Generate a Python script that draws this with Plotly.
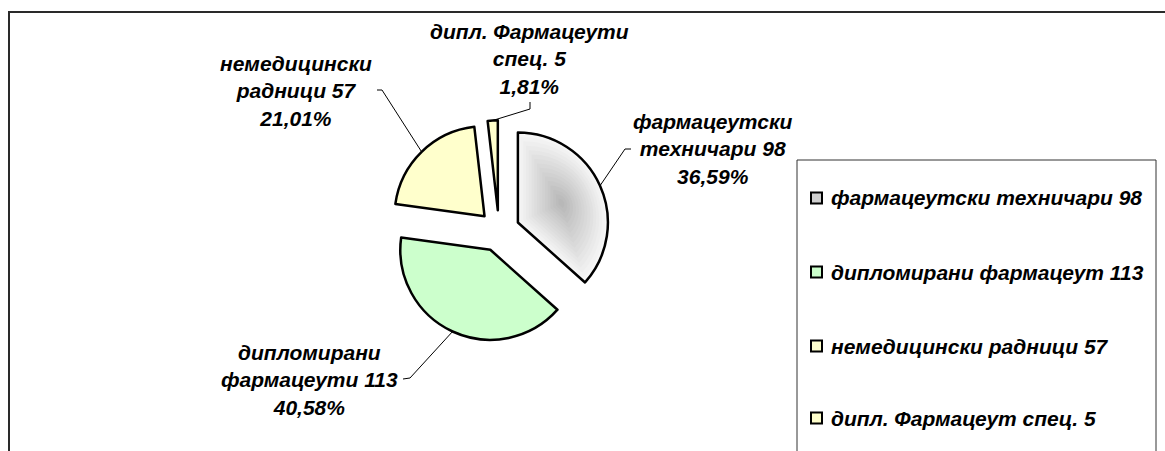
import math
import plotly.graph_objects as go

# ---------------- data ----------------
categories = [
    "фармацеутски техничари 98",
    "дипломирани фармацеут 113",
    "немедицински радници 57",
    "дипл. Фармацеут спец. 5",
]
slice_names = [
    "фармацеутски<br>техничари 98",
    "дипломирани<br>фармацеути 113",
    "немедицински<br>радници 57",
    "дипл. Фармацеути<br>спец. 5",
]
percent_text = ["36,59%", "40,58%", "21,01%", "1,81%"]
shares = [36.59, 40.58, 21.01, 1.81]

# ---------------- styles / layout ----------------
fill_colors = ["#f6f6f6", "#ccffcc", "#ffffcc", "#ffffcc"]
legend_colors = ["#cfcfcf", "#ccffcc", "#ffffcc", "#ffffcc"]
W, H = 1165, 451
CX, CY, R, PULL = 499, 231, 90, 0.23
FONT = "Liberation Sans, Arial, sans-serif"
FSIZE = 21

label_centers = [(713, 149), (309, 380), (296, 91), (529, 59)]
leader_elbows = [
    [(625, 149), (631, 149)],
    [(410, 378), (403, 379)],
    [(382, 90), (377, 90)],
    [(530, 109), (530, 102)],
]
legend_rows_y = [198, 272, 346, 418]


def px(x):
    return x / W


def py(y):
    return 1 - y / H


def domain(cx, cy, half):
    return dict(x=[px(cx - half), px(cx + half)], y=[py(cy + half), py(cy - half)])


fig = go.Figure()

# main pie (fill only)
fig.add_trace(go.Pie(
    values=shares, labels=categories, sort=False, direction="clockwise", rotation=0,
    pull=[PULL] * len(shares),
    marker=dict(colors=fill_colors, line=dict(color="black", width=0)),
    textinfo="none", hoverinfo="label+percent", showlegend=False,
    domain=domain(CX, CY, R * (1 + PULL)),
))

# path-gradient imitation on the first slice: nested scaled copies of the slice
total = sum(shares)
alpha = shares[0] / total * 2 * math.pi
g = 4 * R * math.sin(alpha / 2) / (3 * alpha)
dxm, dym = math.sin(alpha / 2), -math.cos(alpha / 2)
N = 16
for k in range(1, N):
    s = 1 - k / N
    rk = s * R
    ok = PULL * R + (1 - s) * g
    vx, vy = CX + ok * dxm, CY + ok * dym
    t = k / N
    c = int(round(246 - (246 - 180) * t))
    fig.add_trace(go.Pie(
        values=shares, labels=categories, sort=False, direction="clockwise", rotation=0,
        marker=dict(colors=[f"rgb({c},{c},{c})"] + ["rgba(0,0,0,0)"] * (len(shares) - 1),
                    line=dict(width=0)),
        textinfo="none", hoverinfo="skip", showlegend=False,
        domain=domain(vx, vy, rk),
    ))

# outlines on top
fig.add_trace(go.Pie(
    values=shares, labels=categories, sort=False, direction="clockwise", rotation=0,
    pull=[PULL] * len(shares),
    marker=dict(colors=["rgba(0,0,0,0)"] * len(shares), line=dict(color="black", width=2.5)),
    textinfo="none", hoverinfo="skip", showlegend=False,
    domain=domain(CX, CY, R * (1 + PULL)),
))

shapes = []
annotations = []

# outer frame
shapes.append(dict(type="rect", xref="paper", yref="paper",
                   x0=px(9), x1=px(1190), y0=py(480), y1=py(12),
                   line=dict(color="#2a2a2a", width=2)))

# data labels with leader lines
cum = 0
for i, v in enumerate(shares):
    th = math.radians((cum + v / 2) / total * 360)
    cum += v
    d = R * (1 + PULL)
    sx, sy = CX + d * math.sin(th), CY - d * math.cos(th)
    (e1x, e1y), (e2x, e2y) = leader_elbows[i]
    path = f"M {px(sx)},{py(sy)} L {px(e1x)},{py(e1y)} L {px(e2x)},{py(e2y)}"
    shapes.append(dict(type="path", xref="paper", yref="paper", path=path,
                       line=dict(color="black", width=1)))
    lx, ly = label_centers[i]
    annotations.append(dict(
        x=px(lx), y=py(ly), xref="paper", yref="paper", xanchor="center", yanchor="middle",
        text=f"<b><i>{slice_names[i]}<br>{percent_text[i]}</i></b>", showarrow=False,
        align="center", font=dict(family=FONT, size=FSIZE, color="black"),
    ))

# legend
shapes.append(dict(type="rect", xref="paper", yref="paper",
                   x0=px(797), x1=px(1156), y0=py(480), y1=py(160),
                   line=dict(color="#333333", width=1)))
for i, name in enumerate(categories):
    yy = legend_rows_y[i]
    shapes.append(dict(type="rect", xref="paper", yref="paper",
                       x0=px(811), x1=px(822), y0=py(yy + 5.5), y1=py(yy - 5.5),
                       fillcolor=legend_colors[i], line=dict(color="black", width=2)))
    annotations.append(dict(
        x=px(829), y=py(yy), xref="paper", yref="paper", xanchor="left", yanchor="middle",
        text=f"<b><i>{name}</i></b>", showarrow=False,
        font=dict(family=FONT, size=FSIZE, color="black"),
    ))

fig.update_layout(
    width=W, height=H, margin=dict(l=0, r=0, t=0, b=0),
    paper_bgcolor="white", plot_bgcolor="white",
    shapes=shapes, annotations=annotations,
)

fig.write_html("out.html", config={"displayModeBar": False},
               post_script="document.body.style.margin='0';document.body.style.overflow='hidden';")
